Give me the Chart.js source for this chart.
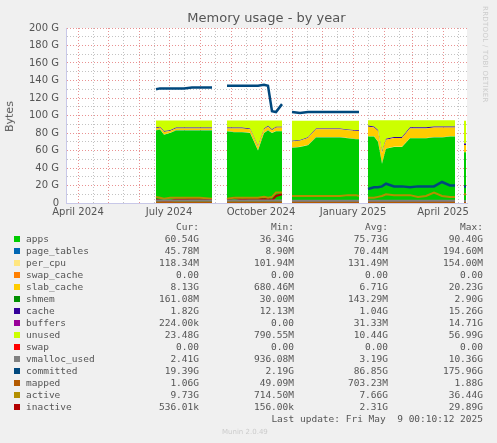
<!DOCTYPE html>
<html>
<head>
<meta charset="utf-8">
<script src="https://cdn.jsdelivr.net/npm/chart.js@4/dist/chart.umd.min.js"></script>
<style>
  body { margin: 0; background: #f0f0f0; width: 497px; height: 443px; overflow: hidden; position: relative; font-family: "DejaVu Sans", sans-serif; }
  #wrap { position: absolute; left: 0; top: 0; width: 497px; height: 225px; }
  #title { position: absolute; top: 10px; left: 66px; width: 401px; text-align: center; font-size: 13px; color: #555; }
  #ylab { position: absolute; left: -6px; top: 110px; transform: rotate(-90deg); font-size: 11px; color: #555; }
  #rrd { position: absolute; left: 481px; top: 6px; writing-mode: vertical-rl; font-size: 7px; color: #ccc; letter-spacing: 0.3px; }
  #legend { position: absolute; left: 0; top: 221px; font-family: "DejaVu Sans Mono", monospace; font-size: 9.5px; color: #555; }
  .row { position: absolute; height: 12px; white-space: pre; }
  .sw { position: absolute; left: 14px; top: 3px; width: 6px; height: 6px; }
  .nm { position: absolute; left: 26px; }
  .v { position: absolute; text-align: right; width: 90px; }
  #munin { position: absolute; top: 428px; left: 222px; font-size: 7px; color: #ccc; }
</style>
</head>
<body>
<div id="wrap"><canvas id="chart"></canvas></div>
<div id="title">Memory usage - by year</div>
<div id="ylab">Bytes</div>
<div id="rrd">RRDTOOL / TOBI OETIKER</div>
<div id="legend"></div>
<div id="munin">Munin 2.0.49</div>
<script>
// x values: days since 2024-03-20
const days = [90, 94, 98, 104, 110, 118, 126, 134, 146, 153,
  161, 168, 176, 184, 192, 198, 202, 206, 210, 216, 220,
  226, 234, 242, 250, 256, 258, 266, 274, 282, 290, 293, 297,
  302, 308, 312, 316, 320, 328, 336, 344, 352, 360, 368, 376, 384, 389, 393,
  398, 400];

const apps = [83, 84, 78, 80, 83, 83, 83, 83, 83, null,
  82, 81, 81, 80, 60, 80, 83, 80, 82, 82, null,
  63, 64, 66, 75, 75, 75, 75, 75, 74, 73, 73, null,
  76, 76, 70, 45, 62, 64, 64, 74, 74, 74, 75, 75, 76, 76, null,
  58, 58];
const pageTables = [0.1, 0.1, 0.1, 0.1, 0.1, 0.1, 0.1, 0.1, 0.1, null,
  0.1, 0.1, 0.1, 0.1, 0.1, 0.1, 0.1, 0.1, 0.1, 0.1, null,
  0.05, 0.05, 0.05, 0.05, 0.05, 0.05, 0.05, 0.05, 0.05, 0.05, 0.05, null,
  0.05, 0.05, 0.05, 0.05, 0.05, 0.05, 0.05, 0.05, 0.05, 0.05, 0.05, 0.05, 0.05, 0.05, null,
  0.05, 0.05];
const perCpu = [0.13, 0.13, 0.13, 0.13, 0.13, 0.13, 0.13, 0.13, 0.13, null,
  0.13, 0.13, 0.13, 0.13, 0.13, 0.13, 0.13, 0.13, 0.13, 0.13, null,
  0.12, 0.12, 0.12, 0.12, 0.12, 0.12, 0.12, 0.12, 0.12, 0.12, 0.12, null,
  0.12, 0.12, 0.12, 0.12, 0.12, 0.12, 0.12, 0.12, 0.12, 0.12, 0.12, 0.12, 0.12, 0.12, null,
  0.12, 0.12];
const swapCache = [0, 0, 0, 0, 0, 0, 0, 0, 0, null,
  0, 0, 0, 0, 0, 0, 0, 0, 0, 0, null,
  0, 0, 0, 0, 0, 0, 0, 0, 0, 0, 0, null,
  0, 0, 0, 0, 0, 0, 0, 0, 0, 0, 0, 0, 0, 0, null,
  0, 0];
const slabCache = [2, 2, 3, 2, 2, 2, 2, 2, 2, null,
  3, 4, 4, 4, 4, 4, 4, 3, 4, 4, null,
  7, 7, 8, 9, 9, 9, 9, 9, 9, 9, 9, null,
  11, 10, 12, 12, 10, 10, 10, 11, 11, 11, 11, 11, 10, 10, null,
  8, 8];
const shmem = [0.15, 0.15, 0.15, 0.15, 0.15, 0.15, 0.15, 0.15, 0.15, null,
  0.15, 0.15, 0.15, 0.15, 0.15, 0.15, 0.15, 0.15, 0.15, 0.15, null,
  0.15, 0.15, 0.15, 0.15, 0.15, 0.15, 0.15, 0.15, 0.15, 0.15, 0.15, null,
  0.15, 0.15, 0.15, 0.15, 0.15, 0.15, 0.15, 0.15, 0.15, 0.15, 0.15, 0.15, 0.15, 0.15, null,
  0.16, 0.16];
const cache = [0.8, 0.8, 0.8, 0.8, 0.8, 0.8, 0.8, 0.8, 0.8, null,
  0.8, 0.8, 0.8, 0.8, 0.8, 0.8, 0.8, 0.8, 0.8, 0.8, null,
  0.8, 0.8, 0.8, 0.8, 0.8, 0.8, 0.8, 0.8, 0.8, 0.8, 0.8, null,
  1.2, 1.2, 1.2, 1.2, 1.2, 1.2, 1.2, 1.2, 1.2, 1.2, 1.2, 1.2, 1.2, 1.2, null,
  1.8, 1.8];
const buffers = [0, 0, 0, 0, 0, 0, 0, 0, 0, null,
  0, 0, 0, 0, 0, 0, 0, 0, 0, 0, null,
  0, 0, 0, 0, 0, 0, 0, 0, 0, 0, 0, null,
  0, 0, 0, 0, 0, 0, 0, 0, 0, 0, 0, 0, 0, 0, null,
  0, 0];
const unused = [8, 7, 12, 11, 8, 8, 8, 8, 8, null,
  8, 8, 8, 9, 29, 9, 6, 10, 7, 7, null,
  23, 22, 19, 9, 9, 9, 9, 9, 10, 11, 11, null,
  6, 7, 11, 36, 21, 19, 19, 8, 8, 8, 7, 7, 7, 7, null,
  26, 26];
const swap = [0, 0, 0, 0, 0, 0, 0, 0, 0, null,
  0, 0, 0, 0, 0, 0, 0, 0, 0, 0, null,
  0, 0, 0, 0, 0, 0, 0, 0, 0, 0, 0, null,
  0, 0, 0, 0, 0, 0, 0, 0, 0, 0, 0, 0, 0, 0, null,
  0, 0];
const vmallocUsed = [3, 3, 3, 3, 3, 3, 3, 3, 3, null,
  3, 3, 3, 3, 3, 3, 3, 3, 3, 3, null,
  2.5, 2.5, 2.5, 2.5, 2.5, 2.5, 2.5, 2.5, 2.5, 2.5, 2.5, null,
  2.5, 2.5, 2.5, 2.5, 2.5, 2.5, 2.5, 2.5, 2.5, 2.5, 2.5, 2.5, 2.5, 2.5, null,
  2.4, 2.4];
const committed = [130, 131, 131, 131, 131, 131, 132, 132, 132, null,
  134, 134, 134, 134, 134, 135, 134, 105, 104, 113, null,
  104, 103, 104, 104, 104, 104, 104, 104, 104, 104, 104, null,
  16, 18, 18, 19, 22, 19, 19, 18, 19, 19, 19, 24, 20, 20, null,
  19, 19];
const mapped = [1, 1, 1, 1, 1, 1, 1, 1, 1, null,
  1, 1, 1, 1, 1, 1, 1, 1, 1, 1, null,
  0.8, 0.8, 0.8, 0.8, 0.8, 0.8, 0.8, 0.8, 0.8, 0.8, 0.8, null,
  1, 1, 1, 1, 1, 1, 1, 1, 1, 1, 1, 1, 1, 1, null,
  1.1, 1.1];
const active = [7, 6, 5, 6, 6, 6, 6, 6, 5, null,
  5, 6, 6, 6, 6, 7, 6, 7, 12, 12, null,
  8, 8, 8, 8, 8, 8, 8, 8, 9, 9, 8, null,
  6, 6, 7, 8, 10, 9, 9, 9, 7, 8, 12, 8, 7, 7, null,
  10, 10];
const inactive = [4, 3, 2, 2, 4, 4, 5, 5, 4, null,
  4, 6, 4, 5, 5, 4, 5, 3, 8, 10, null,
  0.5, 0.5, 0.5, 0.5, 0.5, 0.5, 0.5, 0.5, 0.5, 0.5, 0.5, null,
  2, 2, 1, 1, 1, 1, 1, 1, 1, 1, 2, 2, 1, 1, null,
  0.5, 0.5];

// month starts (days since 2024-03-20) and quarter labels
const monthTicks = [12, 42, 73, 103, 134, 165, 195, 226, 256, 287, 318, 346, 377];
const quarterLabels = { 12: 'April 2024', 103: 'July 2024', 195: 'October 2024', 287: 'January 2025', 377: 'April 2025' };

const legendRows = [
  ['apps', '#00cc00', '60.54G', '36.34G', '75.73G', '90.40G'],
  ['page_tables', '#0066b3', '45.78M', '8.90M', '70.44M', '194.60M'],
  ['per_cpu', '#ffe680', '118.34M', '101.94M', '131.49M', '154.00M'],
  ['swap_cache', '#ff8000', '0.00', '0.00', '0.00', '0.00'],
  ['slab_cache', '#ffcc00', '8.13G', '680.46M', '6.71G', '20.23G'],
  ['shmem', '#008f00', '161.08M', '30.00M', '143.29M', '2.90G'],
  ['cache', '#330099', '1.82G', '12.13M', '1.04G', '15.26G'],
  ['buffers', '#990099', '224.00k', '0.00', '31.33M', '14.71G'],
  ['unused', '#ccff00', '23.48G', '790.55M', '10.44G', '56.99G'],
  ['swap', '#ff0000', '0.00', '0.00', '0.00', '0.00'],
  ['vmalloc_used', '#808080', '2.41G', '936.08M', '3.19G', '10.36G'],
  ['committed', '#00487d', '19.39G', '2.19G', '86.85G', '175.96G'],
  ['mapped', '#b35a00', '1.06G', '49.09M', '703.23M', '1.88G'],
  ['active', '#b38f00', '9.73G', '714.50M', '7.66G', '36.44G'],
  ['inactive', '#b30000', '536.01k', '156.00k', '2.31G', '29.89G']
];

function pts(vals) {
  return vals.map((v, i) => ({ x: days[i], y: v }));
}

function area(label, vals, color, first) {
  return {
    label: label, data: pts(vals), backgroundColor: color, borderColor: color,
    borderWidth: 0, fill: first ? 'origin' : '-1', stack: 'mem', pointRadius: 0,
    tension: 0, spanGaps: false, order: 2
  };
}

function line(label, vals, color, w) {
  return {
    label: label, data: pts(vals), borderColor: color, backgroundColor: color,
    borderWidth: w || 2, fill: false, stack: label, pointRadius: 0, tension: 0,
    spanGaps: false, order: 1
  };
}

const datasets = [
  area('apps', apps, '#00cc00', true),
  area('page_tables', pageTables, '#0066b3'),
  area('per_cpu', perCpu, '#ffe680'),
  area('swap_cache', swapCache, '#ff8000'),
  area('slab_cache', slabCache, '#ffcc00'),
  area('shmem', shmem, '#008f00'),
  area('cache', cache, '#330099'),
  area('buffers', buffers, '#990099'),
  area('unused', unused, '#ccff00'),
  area('swap', swap, '#ff0000'),
  line('vmalloc_used', vmallocUsed, '#808080'),
  line('committed', committed, '#00487d', 2.5),
  line('mapped', mapped, '#b35a00'),
  line('active', active, '#b38f00'),
  line('inactive', inactive, '#b30000')
];

const plotBg = {
  id: 'plotBg',
  beforeDraw(chart) {
    const a = chart.chartArea, c = chart.ctx;
    c.save(); c.fillStyle = '#ffffff';
    c.fillRect(a.left, a.top, a.right - a.left, a.bottom - a.top);
    c.restore();
  }
};

const red = 'rgba(225,110,110,0.75)';
const gray = 'rgba(170,170,170,0.7)';

new Chart(document.getElementById('chart'), {
  type: 'line',
  data: { datasets: datasets },
  plugins: [plotBg],
  options: {
    responsive: true, maintainAspectRatio: false, animation: false,
    layout: { padding: { top: 28, right: 30, left: 0, bottom: 0 } },
    plugins: { legend: { display: false }, tooltip: { enabled: false } },
    scales: {
      x: {
        type: 'linear', min: 0, max: 401,
        afterBuildTicks(scale) {
          const t = [];
          monthTicks.forEach(m => { t.push({ value: m }); if (m + 15 < 401) t.push({ value: m + 15 }); });
          scale.ticks = t;
        },
        afterFit(scale) { scale.height = 22; },
        grid: {
          color: ctx => monthTicks.includes(ctx.tick && ctx.tick.value) ? red : gray,
          lineWidth: 1, drawTicks: false
        },
        border: { color: '#c8c8e8', dash: [1, 2] },
        ticks: {
          autoSkip: false, maxRotation: 0, padding: 3,
          font: { family: 'DejaVu Sans', size: 10 }, color: '#555',
          callback: v => quarterLabels[v] || ''
        }
      },
      y: {
        stacked: true, min: 0, max: 200,
        afterBuildTicks(scale) {
          const t = [];
          for (let v = 0; v <= 200; v += 10) t.push({ value: v });
          scale.ticks = t;
        },
        afterFit(scale) { scale.width = 66; },
        grid: {
          color: ctx => (ctx.tick && ctx.tick.value % 20 === 0) ? red : gray,
          drawTicks: false
        },
        border: { color: '#c8c8e8', dash: [1, 2] },
        ticks: {
          autoSkip: false, padding: 7,
          font: { family: 'DejaVu Sans', size: 10 }, color: '#555',
          callback: v => v % 20 === 0 ? (v === 0 ? '0' : v + ' G') : ''
        }
      }
    }
  }
});

// HTML legend table
const legend = document.getElementById('legend');
const colsRight = [199, 294, 388, 483];
const header = document.createElement('div');
header.className = 'row'; header.style.top = '0px';
['Cur:', 'Min:', 'Avg:', 'Max:'].forEach((h, i) => {
  const s = document.createElement('span'); s.className = 'v';
  s.style.left = (colsRight[i] - 90) + 'px'; s.textContent = h; header.appendChild(s);
});
legend.appendChild(header);
legendRows.forEach((r, k) => {
  const row = document.createElement('div');
  row.className = 'row'; row.style.top = (12 + k * 12) + 'px';
  const sw = document.createElement('span'); sw.className = 'sw'; sw.style.background = r[1]; row.appendChild(sw);
  const nm = document.createElement('span'); nm.className = 'nm'; nm.textContent = r[0]; row.appendChild(nm);
  for (let i = 0; i < 4; i++) {
    const s = document.createElement('span'); s.className = 'v';
    s.style.left = (colsRight[i] - 90) + 'px'; s.textContent = r[2 + i]; row.appendChild(s);
  }
  legend.appendChild(row);
});
const upd = document.createElement('div');
upd.className = 'row'; upd.style.top = (12 + 15 * 12) + 'px';
const us = document.createElement('span'); us.className = 'v'; us.style.width = '300px';
us.style.left = (483 - 300) + 'px'; us.textContent = 'Last update: Fri May  9 00:10:12 2025';
upd.appendChild(us); legend.appendChild(upd);
</script>
</body>
</html>
